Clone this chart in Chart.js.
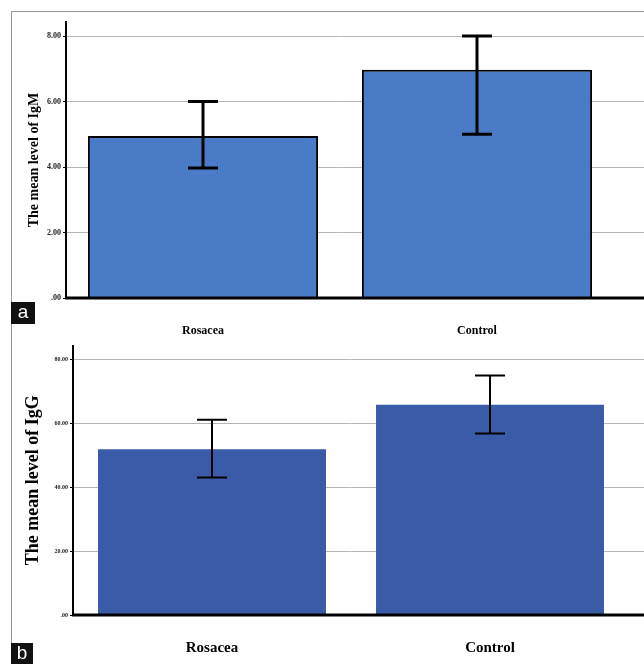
<!DOCTYPE html>
<html>
<head>
<meta charset="utf-8">
<script src="https://cdn.jsdelivr.net/npm/chart.js@4"></script>
<style>
  body { margin: 0; background: #fff; width: 644px; height: 664px; position: relative; overflow: hidden; }
  #frame { position: absolute; left: 11px; top: 11px; width: 640px; height: 660px; border-top: 1px solid #999; border-left: 1px solid #999; }
  .box { position: absolute; left: 11px; background: #111; color: #fff; font: 19px "Liberation Sans", Arial, sans-serif; text-align: center; }
  #wrapA { position: absolute; left: 11px; top: 11px; width: 633px; height: 330px; }
  #wrapB { position: absolute; left: 11px; top: 340px; width: 633px; height: 324px; }
</style>
</head>
<body>
<div id="frame"></div>
<div id="wrapA"><canvas id="chartA" width="633" height="330"></canvas></div>
<div id="wrapB"><canvas id="chartB" width="633" height="324"></canvas></div>
<div class="box" style="top:302px;width:24px;height:22px;line-height:20px;">a</div>
<div class="box" style="top:643px;width:22px;height:21px;line-height:20px;">b</div>
<script>
var categories = ['Rosacea', 'Control'];

// panel a - IgM
var igmMeans = [4.95, 6.97];
var igmLow = [3.97, 5.0];
var igmHigh = [6.0, 8.0];
var igmTicks = [0, 2, 4, 6, 8];

// panel b - IgG
var iggMeans = [51.9, 65.9];
var iggLow = [43.1, 56.9];
var iggHigh = [61.2, 75.0];
var iggTicks = [0, 20, 40, 60, 80];

function fmt(v) {
    return v === 0 ? '.00' : v.toFixed(2);
}

function makeChart(id, cfg) {
    var errPlugin = {
        id: 'extras',
        beforeDatasetsDraw: function(chart) {
            // grid lines run on to the right edge
            var ctx = chart.ctx, y = chart.scales.y, area = chart.chartArea;
            ctx.save();
            ctx.strokeStyle = '#b5b5b5';
            ctx.lineWidth = 1;
            cfg.ticks.forEach(function(t) {
                if (t === 0) return;
                var py = Math.round(y.getPixelForValue(t) - 0.5) + 0.5;
                ctx.beginPath();
                ctx.moveTo(area.right - 1, py);
                ctx.lineTo(chart.width, py);
                ctx.stroke();
            });
            ctx.restore();
        },
        afterDatasetsDraw: function(chart) {
            var ctx = chart.ctx, y = chart.scales.y, area = chart.chartArea;
            var meta = chart.getDatasetMeta(0);
            ctx.save();
            ctx.strokeStyle = '#000';
            ctx.lineWidth = cfg.errWidth;
            meta.data.forEach(function(bar, i) {
                var hi = y.getPixelForValue(cfg.high[i]);
                var lo = y.getPixelForValue(cfg.low[i]);
                ctx.beginPath();
                ctx.moveTo(bar.x, hi);
                ctx.lineTo(bar.x, lo);
                ctx.moveTo(bar.x - cfg.cap, hi);
                ctx.lineTo(bar.x + cfg.cap, hi);
                ctx.moveTo(bar.x - cfg.cap, lo);
                ctx.lineTo(bar.x + cfg.cap, lo);
                ctx.stroke();
            });
            // x axis line
            var base = y.getPixelForValue(0);
            ctx.lineWidth = 3;
            ctx.beginPath();
            ctx.moveTo(area.left - 1, base);
            ctx.lineTo(chart.width, base);
            ctx.stroke();
            ctx.restore();
        }
    };

    return new Chart(document.getElementById(id), {
        type: 'bar',
        data: {
            labels: categories,
            datasets: [{
                data: cfg.means,
                backgroundColor: cfg.color,
                borderColor: '#000',
                borderWidth: cfg.barBorder,
                borderSkipped: 'bottom',
                barPercentage: cfg.barPct,
                categoryPercentage: 1
            }]
        },
        options: {
            responsive: false,
            animation: false,
            layout: { padding: cfg.padding },
            plugins: { legend: { display: false }, tooltip: { enabled: false } },
            scales: {
                x: {
                    grid: { display: false },
                    border: { display: false },
                    ticks: {
                        color: '#000',
                        padding: cfg.labelPad,
                        font: { family: 'Liberation Serif', weight: 'bold', size: cfg.catSize }
                    },
                    afterFit: function(s) { s.height = cfg.xHeight; }
                },
                y: {
                    min: 0,
                    max: cfg.max,
                    afterBuildTicks: function(s) {
                        s.ticks = cfg.ticks.map(function(v) { return { value: v }; });
                    },
                    afterFit: function(s) { s.width = cfg.yWidth; },
                    grid: { color: '#b5b5b5', tickLength: 3, tickColor: '#000' },
                    border: { color: '#000', width: 2 },
                    ticks: {
                        color: '#222',
                        padding: 2,
                        font: { family: 'Liberation Serif', weight: 'bold', size: cfg.tickSize },
                        callback: function(v) { return fmt(v); }
                    },
                    title: {
                        display: true,
                        text: cfg.title,
                        color: '#000',
                        padding: { top: cfg.titleOff, bottom: 0 },
                        font: { family: 'Liberation Serif', weight: 'bold', size: cfg.titleSize }
                    }
                }
            }
        },
        plugins: [errPlugin]
    });
}

makeChart('chartA', {
    means: igmMeans, low: igmLow, high: igmHigh, ticks: igmTicks,
    max: 8.43, title: 'The mean level of IgM', titleSize: 14, titleOff: 15,
    color: '#4a7bc6', barBorder: 2, barPct: 0.84, errWidth: 3, cap: 15,
    tickSize: 8, catSize: 12, labelPad: 18,
    yWidth: 55, xHeight: 43,
    padding: { top: 11, right: 30, left: 0, bottom: 0 }
});

makeChart('chartB', {
    means: iggMeans, low: iggLow, high: iggHigh, ticks: iggTicks,
    max: 84.4, title: 'The mean level of IgG', titleSize: 18, titleOff: 12,
    color: '#3a5ba8', barBorder: 0, barPct: 0.82, errWidth: 2, cap: 15,
    tickSize: 6, catSize: 15, labelPad: 16,
    yWidth: 62, xHeight: 49,
    padding: { top: 5, right: 15, left: 0, bottom: 0 }
});
</script>
</body>
</html>
